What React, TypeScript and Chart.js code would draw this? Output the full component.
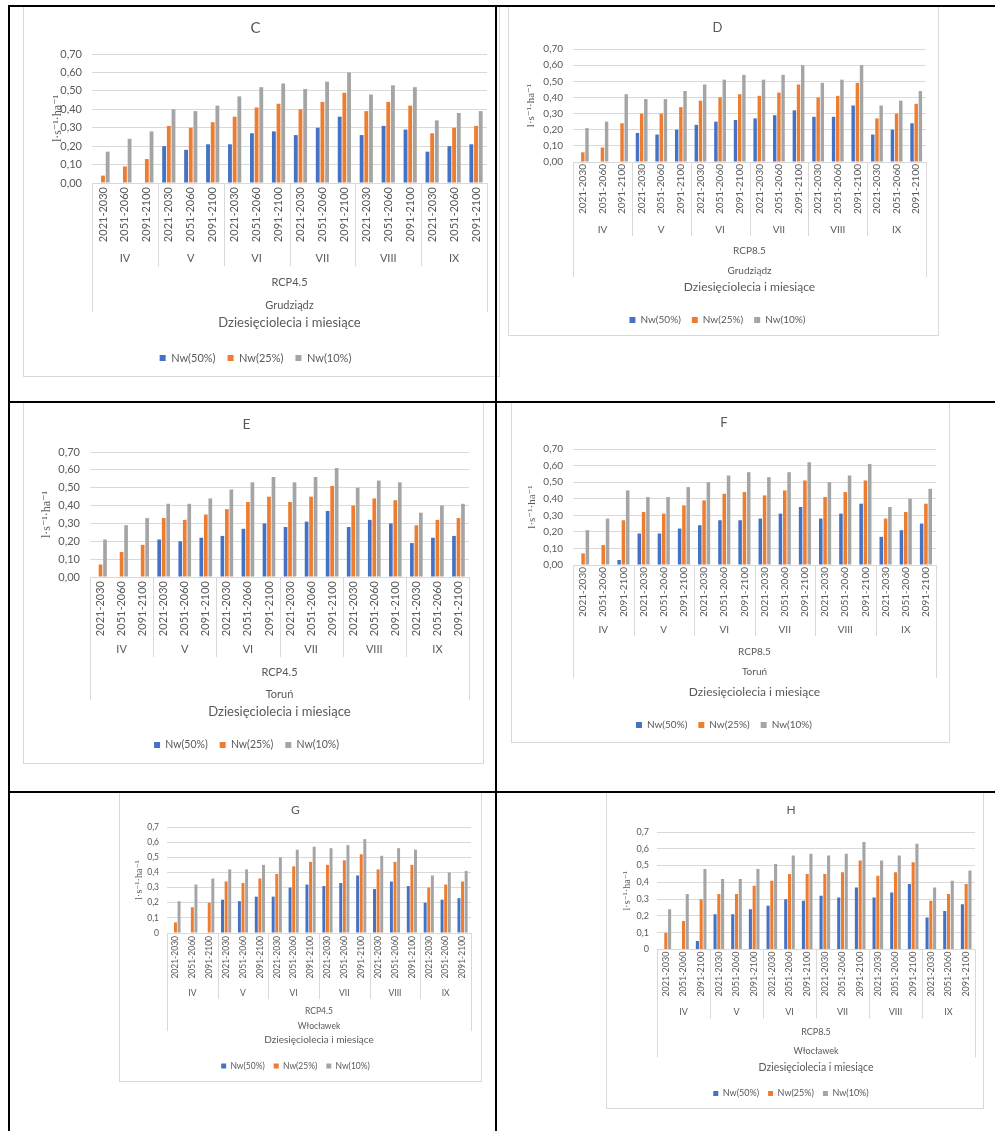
import React, { useEffect, useRef } from 'react';
import { Chart, registerables } from 'chart.js';

Chart.register(...registerables);

// ---------------- data ----------------
const decades = ['2021-2030', '2051-2060', '2091-2100'];
const months = ['IV', 'V', 'VI', 'VII', 'VIII', 'IX'];
const seriesNames = ['Nw(50%)', 'Nw(25%)', 'Nw(10%)'];
const yTicksTwoDec = ['0,00', '0,10', '0,20', '0,30', '0,40', '0,50', '0,60', '0,70'];
const yTicksShort = ['0', '0,1', '0,2', '0,3', '0,4', '0,5', '0,6', '0,7'];
const xAxisTitle = 'Dziesięciolecia i miesiące';
const yAxisTitle = 'l·s⁻¹·ha⁻¹';

// C: RCP4.5, Grudziądz
const cNw50 = [0, 0, 0, 0.20, 0.18, 0.21, 0.21, 0.27, 0.28, 0.26, 0.30, 0.36, 0.26, 0.31, 0.29, 0.17, 0.20, 0.21];
const cNw25 = [0.04, 0.09, 0.13, 0.31, 0.30, 0.33, 0.36, 0.41, 0.43, 0.40, 0.44, 0.49, 0.39, 0.44, 0.42, 0.27, 0.30, 0.31];
const cNw10 = [0.17, 0.24, 0.28, 0.40, 0.39, 0.42, 0.47, 0.52, 0.54, 0.51, 0.55, 0.60, 0.48, 0.53, 0.52, 0.34, 0.38, 0.39];

// D: RCP8.5, Grudziądz
const dNw50 = [0, 0, 0, 0.18, 0.17, 0.20, 0.23, 0.25, 0.26, 0.27, 0.29, 0.32, 0.28, 0.28, 0.35, 0.17, 0.20, 0.24];
const dNw25 = [0.06, 0.09, 0.24, 0.30, 0.30, 0.34, 0.38, 0.40, 0.42, 0.41, 0.43, 0.48, 0.40, 0.41, 0.49, 0.27, 0.30, 0.36];
const dNw10 = [0.21, 0.25, 0.42, 0.39, 0.39, 0.44, 0.48, 0.51, 0.54, 0.51, 0.54, 0.60, 0.49, 0.51, 0.60, 0.35, 0.38, 0.44];

// E: RCP4.5, Toruń
const eNw50 = [0, 0, 0, 0.21, 0.20, 0.22, 0.23, 0.27, 0.30, 0.28, 0.31, 0.37, 0.28, 0.32, 0.30, 0.19, 0.22, 0.23];
const eNw25 = [0.07, 0.14, 0.18, 0.33, 0.32, 0.35, 0.38, 0.42, 0.45, 0.42, 0.45, 0.51, 0.40, 0.44, 0.43, 0.29, 0.32, 0.33];
const eNw10 = [0.21, 0.29, 0.33, 0.41, 0.41, 0.44, 0.49, 0.53, 0.56, 0.53, 0.56, 0.61, 0.50, 0.54, 0.53, 0.36, 0.40, 0.41];

// F: RCP8.5, Toruń
const fNw50 = [0, 0, 0.03, 0.19, 0.19, 0.22, 0.24, 0.27, 0.27, 0.28, 0.31, 0.35, 0.28, 0.31, 0.37, 0.17, 0.21, 0.25];
const fNw25 = [0.07, 0.12, 0.27, 0.32, 0.31, 0.36, 0.39, 0.43, 0.44, 0.42, 0.45, 0.51, 0.41, 0.44, 0.51, 0.28, 0.32, 0.37];
const fNw10 = [0.21, 0.28, 0.45, 0.41, 0.41, 0.47, 0.50, 0.54, 0.56, 0.53, 0.56, 0.62, 0.50, 0.54, 0.61, 0.35, 0.40, 0.46];

// G: RCP4.5, Włocławek
const gNw50 = [0, 0, 0, 0.22, 0.21, 0.24, 0.24, 0.30, 0.32, 0.31, 0.33, 0.38, 0.29, 0.34, 0.31, 0.20, 0.22, 0.23];
const gNw25 = [0.07, 0.17, 0.20, 0.34, 0.33, 0.36, 0.39, 0.44, 0.47, 0.45, 0.48, 0.52, 0.42, 0.47, 0.45, 0.30, 0.32, 0.34];
const gNw10 = [0.21, 0.32, 0.36, 0.42, 0.42, 0.45, 0.50, 0.55, 0.57, 0.56, 0.58, 0.62, 0.51, 0.56, 0.55, 0.38, 0.40, 0.41];

// H: RCP8.5, Włocławek
const hNw50 = [0, 0, 0.05, 0.21, 0.21, 0.24, 0.26, 0.30, 0.29, 0.32, 0.31, 0.37, 0.31, 0.34, 0.39, 0.19, 0.23, 0.27];
const hNw25 = [0.10, 0.17, 0.30, 0.33, 0.33, 0.38, 0.41, 0.45, 0.45, 0.45, 0.46, 0.53, 0.44, 0.46, 0.52, 0.29, 0.33, 0.39];
const hNw10 = [0.24, 0.33, 0.48, 0.42, 0.42, 0.48, 0.51, 0.56, 0.57, 0.56, 0.57, 0.64, 0.53, 0.56, 0.63, 0.37, 0.41, 0.47];

// ---------------- styles ----------------
const BLUE = '#4472C4';
const ORANGE = '#ED7D31';
const GRAY = '#A5A5A5';
const TEXT = '#595959';
const GRID = '#D9D9D9';
const SANS = 'Lato, "Liberation Sans", sans-serif';
const SERIF = '"Liberation Serif", "DejaVu Serif", serif';

type Layout = {
  frameLeft: number; frameTop: number; frameW: number; frameH: number;
  titleFont: number; titleY: number;
  plotTop: number; plotBottom: number; plotLeft: number; plotRight: number;
  tickFont: number; yTickGap: number; yTitleFont: number; yTitleX: number; xTickPad: number;
  monthY: number; sepEnd: number; rcpY: number; cityY: number; outerEnd: number; groupFont: number;
  axisTitleFont: number; axisTitleY: number;
  legendFont: number; legendY: number; legendGap: number; legendBox: number;
};

type Spec = {
  key: string; title: string; rcp: string; city: string;
  nw50: number[]; nw25: number[]; nw10: number[];
  yTicks: string[]; layout: Layout;
};

const layoutC: Layout = {
  frameLeft: 23, frameTop: 6, frameW: 477, frameH: 371,
  titleFont: 15, titleY: 28,
  plotTop: 54, plotBottom: 183, plotLeft: 92, plotRight: 487,
  tickFont: 11, yTickGap: 10, yTitleFont: 12, yTitleX: 58, xTickPad: 4,
  monthY: 75, sepEnd: 83, rcpY: 99, cityY: 122, outerEnd: 129, groupFont: 11,
  axisTitleFont: 13, axisTitleY: 323,
  legendFont: 11, legendY: 358, legendGap: 12, legendBox: 6,
};
const layoutD: Layout = {
  frameLeft: 508, frameTop: 6, frameW: 431, frameH: 330,
  titleFont: 13, titleY: 28,
  plotTop: 49, plotBottom: 163, plotLeft: 573, plotRight: 926,
  tickFont: 10, yTickGap: 10, yTitleFont: 11, yTitleX: 531, xTickPad: 2,
  monthY: 68, sepEnd: 74, rcpY: 89, cityY: 109, outerEnd: 115, groupFont: 10,
  axisTitleFont: 12, axisTitleY: 288,
  legendFont: 10, legendY: 321, legendGap: 11, legendBox: 6,
};
const layoutE: Layout = {
  frameLeft: 23, frameTop: 402, frameW: 461, frameH: 362,
  titleFont: 14, titleY: 424,
  plotTop: 452, plotBottom: 577, plotLeft: 90, plotRight: 469,
  tickFont: 11, yTickGap: 10, yTitleFont: 12, yTitleX: 47, xTickPad: 4,
  monthY: 72, sepEnd: 80, rcpY: 95, cityY: 117, outerEnd: 123, groupFont: 11,
  axisTitleFont: 13, axisTitleY: 712,
  legendFont: 10.5, legendY: 745, legendGap: 12, legendBox: 6,
};
const layoutF: Layout = {
  frameLeft: 511, frameTop: 402, frameW: 439, frameH: 341,
  titleFont: 13, titleY: 423,
  plotTop: 449, plotBottom: 565, plotLeft: 573, plotRight: 936,
  tickFont: 10, yTickGap: 10, yTitleFont: 11, yTitleX: 532, xTickPad: 2,
  monthY: 65, sepEnd: 71, rcpY: 87, cityY: 107, outerEnd: 113, groupFont: 10,
  axisTitleFont: 12, axisTitleY: 692,
  legendFont: 10, legendY: 725, legendGap: 11, legendBox: 6,
};
const layoutG: Layout = {
  frameLeft: 119, frameTop: 792, frameW: 363, frameH: 290,
  titleFont: 12, titleY: 810,
  plotTop: 827, plotBottom: 933, plotLeft: 167, plotRight: 471,
  tickFont: 8.5, yTickGap: 8, yTitleFont: 10, yTitleX: 139, xTickPad: 3,
  monthY: 60, sepEnd: 66, rcpY: 78, cityY: 93, outerEnd: 98, groupFont: 8.5,
  axisTitleFont: 10, axisTitleY: 1040,
  legendFont: 8.5, legendY: 1066, legendGap: 9, legendBox: 5,
};
const layoutH: Layout = {
  frameLeft: 606, frameTop: 792, frameW: 378, frameH: 317,
  titleFont: 12, titleY: 810,
  plotTop: 832, plotBottom: 950, plotLeft: 657, plotRight: 975,
  tickFont: 9, yTickGap: 8, yTitleFont: 10, yTitleX: 627, xTickPad: 2,
  monthY: 63, sepEnd: 69, rcpY: 83, cityY: 102, outerEnd: 108, groupFont: 9,
  axisTitleFont: 10.5, axisTitleY: 1068,
  legendFont: 9, legendY: 1094, legendGap: 9, legendBox: 5,
};

const specs: Spec[] = [
  { key: 'C', title: 'C', rcp: 'RCP4.5', city: 'Grudziądz', nw50: cNw50, nw25: cNw25, nw10: cNw10, yTicks: yTicksTwoDec, layout: layoutC },
  { key: 'D', title: 'D', rcp: 'RCP8.5', city: 'Grudziądz', nw50: dNw50, nw25: dNw25, nw10: dNw10, yTicks: yTicksTwoDec, layout: layoutD },
  { key: 'E', title: 'E', rcp: 'RCP4.5', city: 'Toruń', nw50: eNw50, nw25: eNw25, nw10: eNw10, yTicks: yTicksTwoDec, layout: layoutE },
  { key: 'F', title: 'F', rcp: 'RCP8.5', city: 'Toruń', nw50: fNw50, nw25: fNw25, nw10: fNw10, yTicks: yTicksTwoDec, layout: layoutF },
  { key: 'G', title: 'G', rcp: 'RCP4.5', city: 'Włocławek', nw50: gNw50, nw25: gNw25, nw10: gNw10, yTicks: yTicksShort, layout: layoutG },
  { key: 'H', title: 'H', rcp: 'RCP8.5', city: 'Włocławek', nw50: hNw50, nw25: hNw25, nw10: hNw10, yTicks: yTicksShort, layout: layoutH },
];

// draws month groups, separators, scenario and city rows under the x axis
function makeGroupPlugin(spec: Spec) {
  const L = spec.layout;
  return {
    id: 'groupLabels' + spec.key,
    afterDraw(chart: any) {
      const xs = chart.scales.x;
      const ctx = chart.ctx;
      const per = decades.length;
      const top = chart.chartArea.bottom;
      const bounds: number[] = [xs.left];
      for (let g = 1; g < months.length; g++) {
        const a = xs.getPixelForTick(g * per - 1);
        const b = xs.getPixelForTick(g * per);
        bounds.push((a + b) / 2);
      }
      bounds.push(xs.right);
      ctx.save();
      ctx.strokeStyle = GRID;
      ctx.lineWidth = 1;
      bounds.forEach((bx, i) => {
        const outer = i === 0 || i === bounds.length - 1;
        const px = Math.round(bx) + 0.5;
        ctx.beginPath();
        ctx.moveTo(px, top);
        ctx.lineTo(px, top + (outer ? L.outerEnd : L.sepEnd));
        ctx.stroke();
      });
      ctx.fillStyle = TEXT;
      ctx.font = `${L.groupFont}px ${SANS}`;
      ctx.textAlign = 'center';
      ctx.textBaseline = 'middle';
      months.forEach((m, g) => ctx.fillText(m, (bounds[g] + bounds[g + 1]) / 2, top + L.monthY));
      const cx = (xs.left + xs.right) / 2;
      ctx.fillText(spec.rcp, cx, top + L.rcpY);
      ctx.fillText(spec.city, cx, top + L.cityY);
      ctx.restore();
    },
  };
}

function ChartBox({ spec }: { spec: Spec }) {
  const ref = useRef<HTMLCanvasElement>(null);
  const L = spec.layout;
  const W = L.frameW - 2;
  const H = L.frameH - 2;
  const ox = L.frameLeft + 1;
  const oy = L.frameTop + 1;

  useEffect(() => {
    const canvas = ref.current;
    if (!canvas) return;
    const lh = (s: number) => s * 1.2;
    const titleY = L.titleY - oy;
    const plotTop = L.plotTop - oy;
    const plotBottom = L.plotBottom - oy;
    const plotLeft = L.plotLeft - ox;
    const plotRight = L.plotRight - ox;
    const legendY = L.legendY - oy;
    const axisTitleY = L.axisTitleY - oy;
    const yTitleX = L.yTitleX - ox;

    const titlePadTop = titleY - lh(L.titleFont) / 2;
    const titlePadBottom = plotTop - titleY - lh(L.titleFont) / 2;
    const legendTop = legendY - L.legendGap - L.legendFont / 2;
    const padBottom = Math.max(0, H - legendY - L.legendFont / 2 - 10);
    const xHeight = legendTop - plotBottom;
    const axisTitlePadBottom = legendTop - axisTitleY - lh(L.axisTitleFont) / 2;
    const yTitlePadTop = yTitleX - lh(L.yTitleFont) / 2;

    const labels = months.flatMap(() => decades);

    const chart = new Chart(canvas, {
      type: 'bar',
      data: {
        labels,
        datasets: [
          { label: seriesNames[0], data: spec.nw50, backgroundColor: BLUE },
          { label: seriesNames[1], data: spec.nw25, backgroundColor: ORANGE },
          { label: seriesNames[2], data: spec.nw10, backgroundColor: GRAY },
        ],
      },
      options: {
        responsive: false,
        animation: false,
        devicePixelRatio: 1,
        layout: { padding: { top: 0, left: 0, right: W - plotRight, bottom: padBottom } },
        datasets: { bar: { categoryPercentage: 0.64, barPercentage: 0.82 } } as any,
        scales: {
          x: {
            grid: { display: false, drawTicks: false },
            border: { display: false },
            ticks: {
              autoSkip: false, maxRotation: 90, minRotation: 90, padding: L.xTickPad,
              color: TEXT, font: { family: SANS, size: L.tickFont },
            },
            title: {
              display: true, text: xAxisTitle, color: TEXT,
              font: { family: SANS, size: L.axisTitleFont },
              padding: { top: 0, bottom: axisTitlePadBottom },
            },
            afterFit: (s: any) => { s.height = xHeight; },
          },
          y: {
            min: 0, max: 0.7,
            grid: { color: GRID, drawTicks: false },
            border: { display: false },
            ticks: {
              stepSize: 0.1, padding: L.yTickGap, color: TEXT,
              font: { family: SANS, size: L.tickFont },
              callback: (v: any) => spec.yTicks[Math.round(Number(v) * 10)],
            },
            title: {
              display: true, text: yAxisTitle, color: TEXT,
              font: { family: SERIF, size: L.yTitleFont },
              padding: { top: yTitlePadTop, bottom: 0 },
            },
            afterFit: (s: any) => { s.width = plotLeft; },
          },
        } as any,
        plugins: {
          title: {
            display: true, text: spec.title, color: TEXT,
            font: { family: SANS, size: L.titleFont, weight: 'normal' },
            padding: { top: titlePadTop, bottom: titlePadBottom },
          },
          legend: {
            display: true, position: 'bottom',
            labels: {
              boxWidth: L.legendBox, boxHeight: L.legendBox, padding: L.legendGap,
              color: TEXT, font: { family: SANS, size: L.legendFont },
            },
          },
          tooltip: { enabled: false },
        } as any,
      },
      plugins: [makeGroupPlugin(spec)],
    });
    return () => chart.destroy();
  }, []);

  return (
    <div
      style={{
        position: 'absolute', left: L.frameLeft, top: L.frameTop, width: L.frameW, height: L.frameH,
        border: `1px solid ${GRID}`, boxSizing: 'border-box', background: '#fff',
      }}
    >
      <canvas ref={ref} width={W} height={H} style={{ display: 'block', width: W, height: H }} />
    </div>
  );
}

const lineStyle = (left: number, top: number, width: number, height: number): React.CSSProperties => ({
  position: 'absolute', left, top, width, height, background: '#000',
});

export default function App() {
  return (
    <div style={{ position: 'absolute', left: 0, top: 0, width: 995, height: 1131, background: '#fff', overflow: 'hidden' }}>
      {specs.map((s) => <ChartBox key={s.key} spec={s} />)}
      <div style={lineStyle(8, 5, 987, 2)} />
      <div style={lineStyle(8, 401, 987, 2)} />
      <div style={lineStyle(8, 791, 987, 2)} />
      <div style={lineStyle(8, 5, 2, 1126)} />
      <div style={lineStyle(495, 5, 2, 1126)} />
    </div>
  );
}
